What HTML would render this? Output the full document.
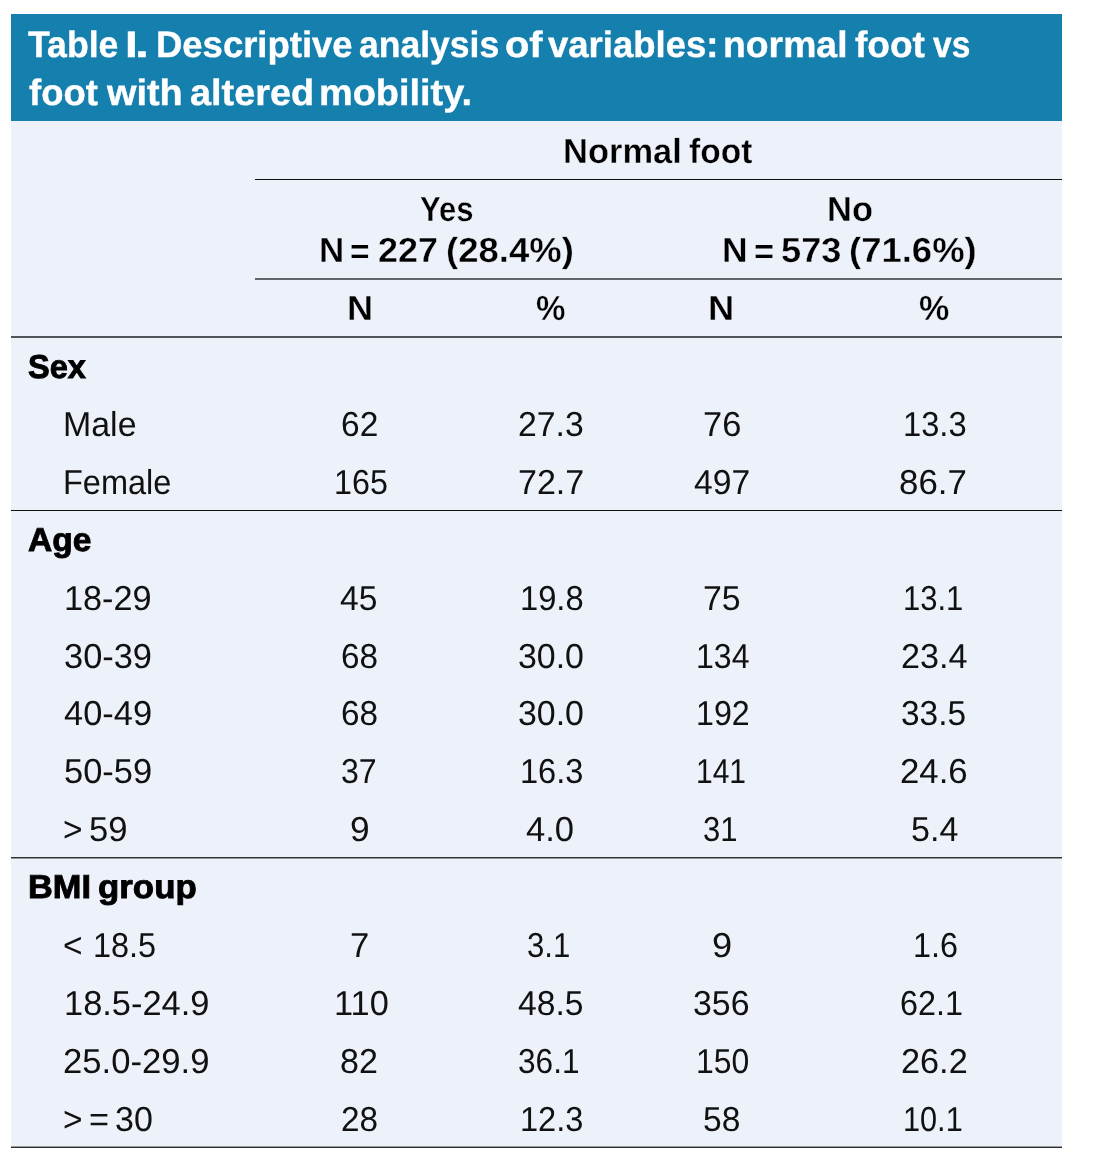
<!DOCTYPE html>
<html lang="en"><head><meta charset="utf-8"><title>Table I. Descriptive analysis of variables</title>
<style>
html,body{margin:0;padding:0;background:#fff;}
body{width:1096px;height:1163px;position:relative;overflow:hidden;font-family:"Liberation Sans",sans-serif;color:#111;text-rendering:geometricPrecision;}
.bg{position:absolute;left:11px;top:14px;width:1051px;height:1133px;background:#edf1f9;}
.hd{position:absolute;left:11px;top:14px;width:1051px;height:107px;background:#157fae;}
.g{position:absolute;left:0;top:0;width:0;height:0;margin:0;padding:0;font-size:0;line-height:0;font-weight:normal;}
.t{position:absolute;display:block;line-height:0;white-space:pre;height:0;transform-origin:0 0;}
.l{position:absolute;}
.f1{font-size:36.7px;font-weight:bold;color:#fff;-webkit-text-stroke:0.4px #fff;}
.f2{font-size:34.8px;font-weight:bold;color:#000;-webkit-text-stroke:0.35px #edf1f9;}
.f3{font-size:33.2px;font-weight:bold;-webkit-text-stroke:0.9px #000;color:#000;}
.f4{font-size:34.6px;}
</style></head><body>
<div class="bg"></div><div class="hd"></div>
<h1 class="g">
<span class="t f1" style="top:45.03px;left:28.09px;transform:scaleX(0.9714)">Table</span>
<span class="t f1" style="top:45.03px;left:125.49px;transform:scaleX(1.2486)">I</span><span class="t f1" style="top:45.03px;left:135.06px;transform:scaleX(1.3648)">.</span>
<span class="t f1" style="top:45.03px;left:155.96px;transform:scaleX(0.9940)">Descriptive</span>
<span class="t f1" style="top:45.03px;left:359.24px;transform:scaleX(0.9681)">analysis</span>
<span class="t f1" style="top:45.03px;left:505.45px;transform:scaleX(1.0839)">of</span>
<span class="t f1" style="top:45.03px;left:547.57px;transform:scaleX(0.9951)">variables:</span>
<span class="t f1" style="top:45.03px;left:723.44px;transform:scaleX(1.0179)">normal</span>
<span class="t f1" style="top:45.03px;left:854.57px;transform:scaleX(1.0101)">foot</span>
<span class="t f1" style="top:45.03px;left:933.06px;transform:scaleX(0.9130)">vs</span>
<span class="t f1" style="top:93.03px;left:28.57px;transform:scaleX(0.9941)">foot</span>
<span class="t f1" style="top:93.03px;left:106.53px;transform:scaleX(1.0322)">with</span>
<span class="t f1" style="top:93.03px;left:190.09px;transform:scaleX(1.0326)">altered</span>
<span class="t f1" style="top:93.03px;left:319.21px;transform:scaleX(1.0328)">mobility.</span>
</h1>
<div class="g">
<span class="t f2" style="top:151.99px;left:563.32px;transform:scaleX(0.9913)">Normal</span>
<span class="t f2" style="top:151.99px;left:689.25px;transform:scaleX(0.9639)">foot</span>
</div>
<div class="g">
<span class="t f2" style="top:209.99px;left:419.78px;transform:scaleX(0.8914)">Yes</span>
<span class="t f2" style="top:250.99px;left:318.89px;transform:scaleX(1.0052)">N</span>
<span class="t f2" style="top:251.99px;left:350.43px;transform:scaleX(0.9607)">=</span>
<span class="t f2" style="top:250.99px;left:377.96px;transform:scaleX(1.0304)">227</span>
<span class="t f2" style="top:250.99px;left:445.78px;transform:scaleX(1.0493)">(28.4%)</span>
</div>
<div class="g">
<span class="t f2" style="top:209.99px;left:826.73px;transform:scaleX(0.9899)">No</span>
<span class="t f2" style="top:250.99px;left:721.55px;transform:scaleX(1.0201)">N</span>
<span class="t f2" style="top:251.99px;left:753.98px;transform:scaleX(0.9900)">=</span>
<span class="t f2" style="top:250.99px;left:780.69px;transform:scaleX(1.0410)">573</span>
<span class="t f2" style="top:250.99px;left:849.38px;transform:scaleX(1.0484)">(71.6%)</span>
</div>
<div class="g">
<span class="t f2" style="top:308.99px;left:346.70px;transform:scaleX(1.0401)">N</span>
</div>
<div class="g">
<span class="t f2" style="top:308.99px;left:535.79px;transform:scaleX(0.9523)">%</span>
</div>
<div class="g">
<span class="t f2" style="top:308.99px;left:708.39px;transform:scaleX(1.0450)">N</span>
</div>
<div class="g">
<span class="t f2" style="top:308.99px;left:919.36px;transform:scaleX(0.9801)">%</span>
</div>
<div class="g">
<span class="t f3" style="top:367.95px;left:27.75px;transform:scaleX(0.9796)">Sex</span>
</div>
<div class="g">
<span class="t f4" style="top:424.96px;left:63.01px;transform:scaleX(0.9809)">Male</span>
<span class="t f4" style="top:424.96px;left:340.61px;transform:scaleX(0.9690)">62</span>
<span class="t f4" style="top:424.96px;left:517.66px;transform:scaleX(0.9768)">27.3</span>
<span class="t f4" style="top:424.96px;left:702.92px;transform:scaleX(0.9959)">76</span>
<span class="t f4" style="top:424.96px;left:902.58px;transform:scaleX(0.9455)">13.3</span>
</div>
<div class="g">
<span class="t f4" style="top:482.96px;left:63.13px;transform:scaleX(0.9395)">Female</span>
<span class="t f4" style="top:482.96px;left:333.98px;transform:scaleX(0.9334)">165</span>
<span class="t f4" style="top:482.96px;left:518.14px;transform:scaleX(0.9842)">72.7</span>
<span class="t f4" style="top:482.96px;left:693.51px;transform:scaleX(0.9731)">497</span>
<span class="t f4" style="top:482.96px;left:899.44px;transform:scaleX(1.0086)">86.7</span>
</div>
<div class="g">
<span class="t f3" style="top:540.95px;left:27.89px;transform:scaleX(1.0094)">Age</span>
</div>
<div class="g">
<span class="t f4" style="top:598.96px;left:64.09px;transform:scaleX(0.9900)">18-29</span>
<span class="t f4" style="top:598.96px;left:340.26px;transform:scaleX(0.9718)">45</span>
<span class="t f4" style="top:598.96px;left:519.95px;transform:scaleX(0.9455)">19.8</span>
<span class="t f4" style="top:598.96px;left:702.95px;transform:scaleX(0.9791)">75</span>
<span class="t f4" style="top:598.96px;left:902.71px;transform:scaleX(0.8955)">13.1</span>
</div>
<div class="g">
<span class="t f4" style="top:656.96px;left:63.64px;transform:scaleX(0.9952)">30-39</span>
<span class="t f4" style="top:656.96px;left:340.62px;transform:scaleX(0.9628)">68</span>
<span class="t f4" style="top:656.96px;left:518.03px;transform:scaleX(0.9801)">30.0</span>
<span class="t f4" style="top:656.96px;left:695.95px;transform:scaleX(0.9273)">134</span>
<span class="t f4" style="top:656.96px;left:900.61px;transform:scaleX(0.9883)">23.4</span>
</div>
<div class="g">
<span class="t f4" style="top:713.96px;left:63.61px;transform:scaleX(0.9955)">40-49</span>
<span class="t f4" style="top:713.96px;left:340.62px;transform:scaleX(0.9628)">68</span>
<span class="t f4" style="top:713.96px;left:518.03px;transform:scaleX(0.9801)">30.0</span>
<span class="t f4" style="top:713.96px;left:695.94px;transform:scaleX(0.9297)">192</span>
<span class="t f4" style="top:713.96px;left:901.01px;transform:scaleX(0.9681)">33.5</span>
</div>
<div class="g">
<span class="t f4" style="top:771.96px;left:63.57px;transform:scaleX(0.9960)">50-59</span>
<span class="t f4" style="top:771.96px;left:341.04px;transform:scaleX(0.9295)">37</span>
<span class="t f4" style="top:771.96px;left:519.95px;transform:scaleX(0.9420)">16.3</span>
<span class="t f4" style="top:771.96px;left:696.11px;transform:scaleX(0.8672)">141</span>
<span class="t f4" style="top:771.96px;left:900.03px;transform:scaleX(1.0051)">24.6</span>
</div>
<div class="g">
<span class="t f4" style="top:829.96px;left:63.35px;transform:scaleX(0.9677)">&gt;</span>
<span class="t f4" style="top:829.96px;left:88.86px;transform:scaleX(1.0013)">59</span>
<span class="t f4" style="top:829.96px;left:349.60px;transform:scaleX(1.0193)">9</span>
<span class="t f4" style="top:829.96px;left:526.24px;transform:scaleX(1.0004)">4.0</span>
<span class="t f4" style="top:829.96px;left:703.46px;transform:scaleX(0.8962)">31</span>
<span class="t f4" style="top:829.96px;left:910.50px;transform:scaleX(0.9845)">5.4</span>
</div>
<div class="g">
<span class="t f3" style="top:887.95px;left:28.16px;transform:scaleX(1.0349)">BMI</span>
<span class="t f3" style="top:887.95px;left:97.83px;transform:scaleX(1.0500)">group</span>
</div>
<div class="g">
<span class="t f4" style="top:945.96px;left:63.35px;transform:scaleX(0.9677)">&lt;</span>
<span class="t f4" style="top:945.96px;left:92.72px;transform:scaleX(0.9383)">18.5</span>
<span class="t f4" style="top:945.96px;left:349.99px;transform:scaleX(1.0029)">7</span>
<span class="t f4" style="top:945.96px;left:526.83px;transform:scaleX(0.9013)">3.1</span>
<span class="t f4" style="top:945.96px;left:711.75px;transform:scaleX(1.0456)">9</span>
<span class="t f4" style="top:945.96px;left:913.01px;transform:scaleX(0.9361)">1.6</span>
</div>
<div class="g">
<span class="t f4" style="top:1003.96px;left:64.17px;transform:scaleX(0.9956)">18.5-24.9</span>
<span class="t f4" style="top:1003.96px;left:333.82px;transform:scaleX(0.9932)">110</span>
<span class="t f4" style="top:1003.96px;left:517.83px;transform:scaleX(0.9730)">48.5</span>
<span class="t f4" style="top:1003.96px;left:693.49px;transform:scaleX(0.9795)">356</span>
<span class="t f4" style="top:1003.96px;left:900.14px;transform:scaleX(0.9346)">62.1</span>
</div>
<div class="g">
<span class="t f4" style="top:1061.96px;left:63.25px;transform:scaleX(1.0020)">25.0-29.9</span>
<span class="t f4" style="top:1061.96px;left:340.06px;transform:scaleX(0.9839)">82</span>
<span class="t f4" style="top:1061.96px;left:518.12px;transform:scaleX(0.9136)">36.1</span>
<span class="t f4" style="top:1061.96px;left:695.96px;transform:scaleX(0.9229)">150</span>
<span class="t f4" style="top:1061.96px;left:900.60px;transform:scaleX(0.9909)">26.2</span>
</div>
<div class="g">
<span class="t f4" style="top:1119.96px;left:63.35px;transform:scaleX(0.9677)">&gt;</span>
<span class="t f4" style="top:1119.96px;left:89.12px;transform:scaleX(0.9939)">=</span>
<span class="t f4" style="top:1119.96px;left:115.25px;transform:scaleX(0.9830)">30</span>
<span class="t f4" style="top:1119.96px;left:340.63px;transform:scaleX(0.9625)">28</span>
<span class="t f4" style="top:1119.96px;left:519.95px;transform:scaleX(0.9420)">12.3</span>
<span class="t f4" style="top:1119.96px;left:703.29px;transform:scaleX(0.9705)">58</span>
<span class="t f4" style="top:1119.96px;left:903.28px;transform:scaleX(0.8868)">10.1</span>
</div>
<div class="l" style="top:179px;left:255px;width:807px;height:1px;background:#111"></div>
<div class="l" style="top:278px;left:255px;width:807px;height:2px;background:#62656b"></div>
<div class="l" style="top:336px;left:11px;width:1051px;height:2px;background:#505358"></div>
<div class="l" style="top:510px;left:11px;width:1051px;height:1px;background:#111"></div>
<div class="l" style="top:857px;left:11px;width:1051px;height:1px;background:#333"></div>
<div class="l" style="top:858px;left:11px;width:1051px;height:1px;background:#90939a"></div>
<div class="l" style="top:1146px;left:11px;width:1051px;height:1px;background:#9a9ca0"></div>
<div class="l" style="top:1147px;left:11px;width:1051px;height:1px;background:#2c2c2e"></div>
</body></html>
